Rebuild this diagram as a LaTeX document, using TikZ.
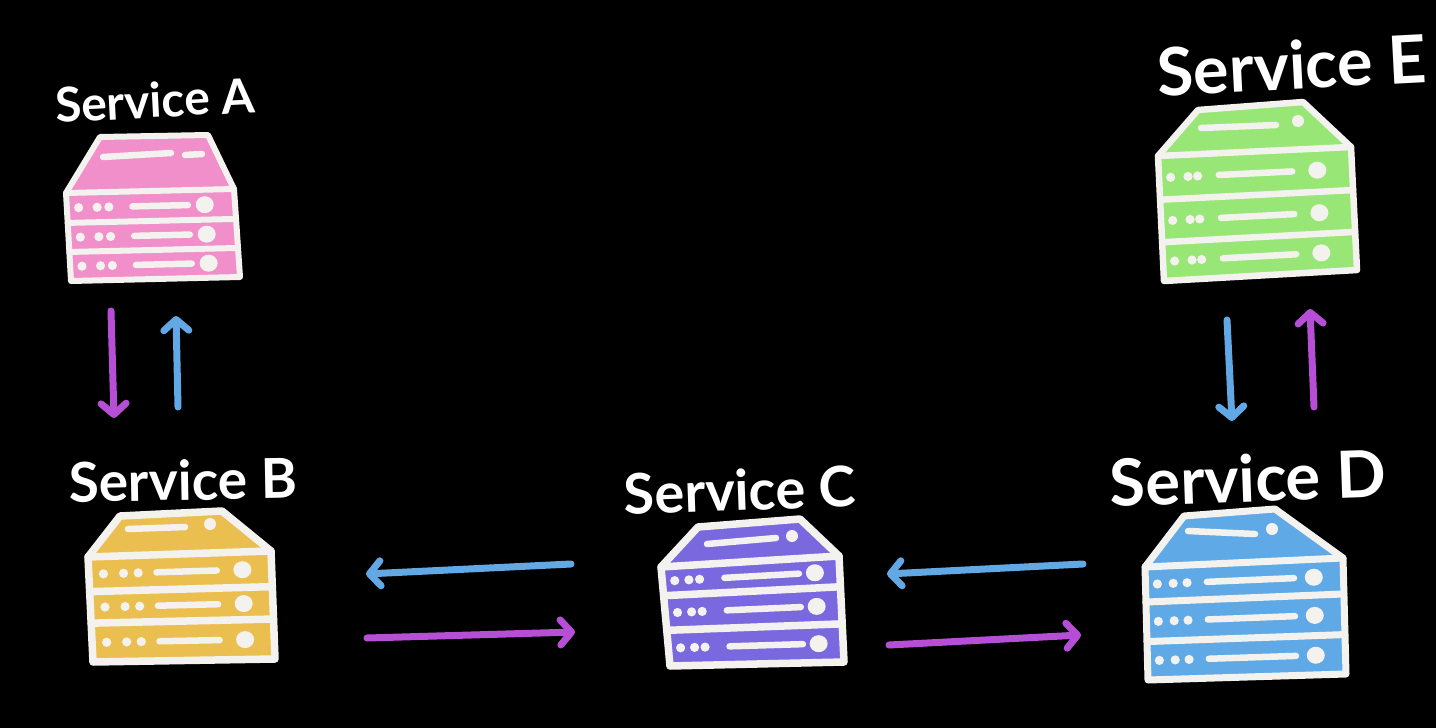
\documentclass[tikz,border=0pt]{standalone}
\usepackage{fontspec}
\usepackage{graphicx}
\setmainfont{Lato}
\usetikzlibrary{calc,arrows.meta}
\definecolor{cPink}{HTML}{F08FC9}
\definecolor{cYellow}{HTML}{EBBE50}
\definecolor{cPurple}{HTML}{7A68DE}
\definecolor{cBlue}{HTML}{5FA9E6}
\definecolor{cGreen}{HTML}{98E676}
\definecolor{cArrowBlue}{HTML}{62A8E4}
\definecolor{cArrowMag}{HTML}{B64FD6}
\definecolor{cWhite}{HTML}{F4F2EE}
\tikzset{
  caselabel/.style={text=white,inner sep=0pt,font=\bfseries\fontsize{40}{44}\selectfont},
  srvmark/.style={cWhite,line width=6.5pt,line cap=round},
  srvanchor/.style={inner sep=0pt,minimum size=0pt},
  flowblue/.style={cArrowBlue,line width=7pt,line cap=round,line join=round,
    -{Straight Barb[length=11pt,width=25pt,round]}},
  flowmag/.style={cArrowMag,line width=7pt,line cap=round,line join=round,
    -{Straight Barb[length=11pt,width=25pt,round]}},
}
% one tier: #1 server, #2 vertical fraction, rest = d1,d2,d3,l1,l2,o
\def\srvtier#1#2#3,#4,#5,#6,#7,#8;{%
  \coordinate (tl) at ($(#1-ml)!#2!(#1-bl)$);
  \coordinate (tr) at ($(#1-mr)!#2!(#1-br)$);
  \fill[cWhite] ($(tl)!#3!(tr)$) circle (4.6pt);
  \fill[cWhite] ($(tl)!#4!(tr)$) circle (4.6pt);
  \fill[cWhite] ($(tl)!#5!(tr)$) circle (4.6pt);
  \draw[srvmark] ($(tl)!#6!(tr)$) -- ($(tl)!#7!(tr)$);
  \fill[cWhite] ($(tl)!#8!(tr)$) ellipse (9pt and 8.5pt);
}
% #1 name, #2 fill, #3 v1, #4 v2, #5 line width, #6 marks
\newcommand{\srvbox}[6]{%
  \pgfmathsetmacro{\vA}{#3/2}\pgfmathsetmacro{\vB}{(#3+#4)/2}\pgfmathsetmacro{\vC}{(#4+1)/2}%
  \fill[#2] (#1-tl) -- (#1-tr) -- (#1-mr) -- (#1-br) -- (#1-bl) -- (#1-ml) -- cycle;
  \draw[cWhite,line width=#5,line join=round,line cap=round]
     (#1-tl) -- (#1-tr) -- (#1-mr) -- (#1-br) -- (#1-bl) -- (#1-ml) -- cycle;
  \draw[cWhite,line width=#5,line cap=round] (#1-ml) -- (#1-mr);
  \draw[cWhite,line width=#5,line cap=round] ($(#1-ml)!#3!(#1-bl)$) -- ($(#1-mr)!#3!(#1-br)$);
  \draw[cWhite,line width=#5,line cap=round] ($(#1-ml)!#4!(#1-bl)$) -- ($(#1-mr)!#4!(#1-br)$);
  \srvtier{#1}{\vA}#6;
  \srvtier{#1}{\vB}#6;
  \srvtier{#1}{\vC}#6;
  \node[srvanchor] (srv#1) at ($(#1-tl)!.5!(#1-br)$) {};
}
\begin{document}
\begin{tikzpicture}[x=1pt,y=-1pt]
\useasboundingbox (0,0) rectangle (1436,728);
\fill[black] (0,0) rectangle (1436,728);

% Service A
\coordinate (A-tl) at (100,137); \coordinate (A-tr) at (208,135);
\coordinate (A-ml) at (66,193);  \coordinate (A-mr) at (234,189);
\coordinate (A-bl) at (71,281);  \coordinate (A-br) at (240,277);
\srvbox{A}{cPink}{.34}{.67}{6pt}{.07,.18,.25,.39,.72,.82}
\draw[srvmark] (103,157) -- (171,153);
\draw[srvmark] (185,155) -- (202,154);
\node[caselabel,rotate=3] (lblA) at (155,100) {\resizebox{200pt}{!}{Service A}};

% Service B
\coordinate (B-tl) at (120,516); \coordinate (B-tr) at (222,511);
\coordinate (B-ml) at (88,557);  \coordinate (B-mr) at (271,551);
\coordinate (B-bl) at (93,662);  \coordinate (B-br) at (275,659);
\srvbox{B}{cYellow}{.33}{.63}{7.5pt}{.08,.19,.27,.37,.70,.84}
\draw[srvmark] (128,529) -- (185,527);
\fill[cWhite] (210,524) circle (6pt);
\node[caselabel,rotate=1] (lblB) at (183,480) {\resizebox{228pt}{!}{Service B}};

% Service C
\coordinate (C-tl) at (698,527); \coordinate (C-tr) at (800,519);
\coordinate (C-ml) at (661,567); \coordinate (C-mr) at (839,556);
\coordinate (C-bl) at (670,666); \coordinate (C-br) at (844,662);
\srvbox{C}{cPurple}{.29}{.64}{7.5pt}{.07,.15,.21,.35,.77,.86}
\draw[srvmark] (707,544) -- (776,538);
\fill[cWhite] (792,536) circle (6pt);
\node[caselabel,rotate=2] (lblC) at (740,490) {\resizebox{232pt}{!}{Service C}};

% Service D
\coordinate (D-tl) at (1184,516); \coordinate (D-tr) at (1275,509);
\coordinate (D-ml) at (1145,567); \coordinate (D-mr) at (1343,558);
\coordinate (D-bl) at (1148,680); \coordinate (D-br) at (1346,674);
\srvbox{D}{cBlue}{.31}{.66}{7pt}{.06,.14,.21,.31,.75,.85}
\draw[srvmark] (1188,531) -- (1255,534);
\fill[cWhite] (1272,529) circle (6pt);
\node[caselabel,rotate=2] (lblD) at (1248,478) {\resizebox{276pt}{!}{Service D}};

% Service E
\coordinate (E-tl) at (1198,110); \coordinate (E-tr) at (1303,102);
\coordinate (E-ml) at (1158,156); \coordinate (E-mr) at (1351,147);
\coordinate (E-bl) at (1164,281); \coordinate (E-br) at (1357,270);
\srvbox{E}{cGreen}{.35}{.69}{6.5pt}{.06,.15,.20,.31,.69,.82}
\draw[srvmark] (1201,128) -- (1276,125);
\fill[cWhite] (1298,121) circle (6pt);
\node[caselabel,rotate=3] (lblE) at (1292,65) {\resizebox{270pt}{!}{Service E}};

% connector ends
\coordinate (ab1) at (111,311);  \coordinate (ab2) at (114,418);
\coordinate (ba1) at (178,407);  \coordinate (ba2) at (176,316);
\coordinate (ed1) at (1227,320); \coordinate (ed2) at (1232,421);
\coordinate (de1) at (1314,407); \coordinate (de2) at (1310,309);
\coordinate (cb1) at (571,564);  \coordinate (cb2) at (366,574);
\coordinate (bc1) at (367,638);  \coordinate (bc2) at (575,632);
\coordinate (dc1) at (1083,564); \coordinate (dc2) at (887,574);
\coordinate (cd1) at (889,645);  \coordinate (cd2) at (1081,635);

\draw[flowmag]  (ab1) -- (ab2);
\draw[flowblue] (ba1) -- (ba2);
\draw[flowblue] (ed1) -- (ed2);
\draw[flowmag]  (de1) -- (de2);
\draw[flowblue] (cb1) -- (cb2);
\draw[flowmag]  (bc1) -- (bc2);
\draw[flowblue] (dc1) -- (dc2);
\draw[flowmag]  (cd1) -- (cd2);
\end{tikzpicture}
\end{document}
